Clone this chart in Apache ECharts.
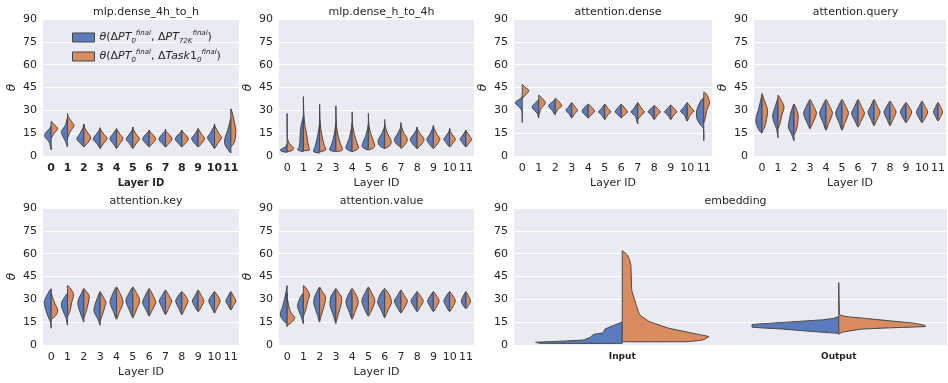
<!DOCTYPE html>
<html>
<head>
<meta charset="utf-8">
<script src="https://cdn.jsdelivr.net/npm/echarts@6/dist/echarts.min.js"></script>
<style>
  html, body { margin: 0; padding: 0; background: #fff; }
  #chart { width: 948px; height: 383px; }
</style>
</head>
<body>
<div id="chart"></div>
<script>
/* ===== Data: split violins, each half = list of [theta, relative half-width] from bottom to top ===== */
const layers = ['0', '1', '2', '3', '4', '5', '6', '7', '8', '9', '10', '11']
const embedCats = ['Input', 'Output']
const yMax = 90
const yStep = 15

// mlp.dense_4h_to_h
const dense4hToH_pt = [
    [[4, 0], [9, 0.25], [13, 0.85], [15, 0.75], [18, 0.2], [20, 0]],
    [[6, 0], [10, 0.3], [14, 0.7], [16, 0.8], [20, 0.3], [25, 0]],
    [[6, 0], [8, 0.4], [11, 0.9], [14, 0.6], [18, 0.15], [21, 0]],
    [[5, 0], [8, 0.4], [11, 0.9], [14, 0.55], [17, 0.1], [18.5, 0]],
    [[5, 0], [8, 0.4], [11, 0.85], [14, 0.55], [17, 0.1], [18, 0]],
    [[5, 0], [8, 0.4], [11, 0.85], [14, 0.5], [17, 0.1], [19, 0]],
    [[6, 0], [8, 0.4], [11, 0.85], [14, 0.5], [16, 0.1], [17, 0]],
    [[6, 0], [8, 0.4], [11, 0.85], [14, 0.5], [16, 0.1], [17.5, 0]],
    [[6, 0], [8, 0.4], [11, 0.85], [14, 0.5], [16, 0.1], [17, 0]],
    [[6, 0], [8, 0.4], [11.5, 0.85], [14, 0.5], [17, 0.1], [18, 0]],
    [[5, 0], [8, 0.4], [12, 0.9], [15, 0.55], [19, 0.1], [21, 0]],
    [[2, 0], [4, 0.35], [8, 0.8], [12, 0.75], [17, 0.4], [22, 0.15], [25, 0]]
]
const dense4hToH_task = [
    [[12, 0], [15, 0.4], [18, 0.85], [20, 0.5], [22, 0.15], [23, 0]],
    [[12, 0], [16, 0.35], [20, 0.85], [23, 0.45], [26, 0.1], [28, 0]],
    [[6, 0], [8, 0.4], [12, 0.9], [15, 0.55], [18, 0.15], [21, 0]],
    [[5, 0], [8, 0.4], [11.5, 0.9], [14, 0.55], [17, 0.1], [18.5, 0]],
    [[5, 0], [8, 0.4], [11.5, 0.85], [14, 0.5], [17, 0.1], [18, 0]],
    [[5, 0], [8, 0.4], [11, 0.85], [14, 0.5], [17, 0.1], [19, 0]],
    [[6, 0], [8, 0.4], [11, 0.85], [14, 0.5], [16, 0.1], [17, 0]],
    [[6, 0], [8, 0.4], [11, 0.85], [14, 0.5], [16, 0.1], [17.5, 0]],
    [[6, 0], [8, 0.4], [11, 0.85], [14, 0.5], [16, 0.1], [17, 0]],
    [[6, 0], [8, 0.4], [11.5, 0.85], [14, 0.5], [17, 0.1], [18, 0]],
    [[5, 0], [8, 0.4], [12, 0.9], [15, 0.55], [19, 0.1], [21, 0]],
    [[6, 0], [9, 0.45], [13, 0.6], [17, 0.65], [21, 0.5], [25, 0.35], [29, 0.15], [31, 0]]
]

// mlp.dense_h_to_4h
const denseHTo4h_pt = [
    [[2.5, 0], [3, 0.7], [4, 0.9], [5, 0.6], [6, 0.2], [8, 0]],
    [[3, 0], [4, 0.75], [6, 0.55], [10, 0.45], [16, 0.4], [20, 0.3], [24, 0.1], [26, 0]],
    [[2, 0], [3, 0.8], [6, 0.6], [10, 0.4], [15, 0.2], [20, 0.05], [22, 0]],
    [[3, 0], [4, 0.8], [7, 0.6], [11, 0.35], [16, 0.15], [22, 0]],
    [[3, 0], [5, 0.8], [8, 0.65], [12, 0.35], [18, 0.1], [22, 0]],
    [[4, 0], [6, 0.8], [9, 0.7], [13, 0.35], [18, 0.1], [21, 0]],
    [[5, 0], [7, 0.7], [10, 0.85], [14, 0.45], [18, 0.1], [20, 0]],
    [[6, 0], [8, 0.6], [11, 0.85], [14, 0.5], [18, 0.1], [20, 0]],
    [[5, 0], [8, 0.6], [11, 0.9], [14, 0.5], [17, 0.1], [19, 0]],
    [[5, 0], [8, 0.55], [11, 0.85], [14, 0.5], [18, 0.1], [20, 0]],
    [[6, 0], [9, 0.5], [11, 0.75], [13, 0.5], [16, 0.1], [18, 0]],
    [[6, 0], [9, 0.5], [11, 0.75], [13, 0.5], [16, 0.1], [17, 0]]
]
const denseHTo4h_task = [
    [[3, 0], [3.5, 0.6], [5, 0.85], [7, 0.5], [9, 0.2], [12, 0.04], [28, 0]],
    [[3.5, 0], [4, 0.8], [6, 0.7], [10, 0.55], [15, 0.4], [20, 0.2], [28, 0.06], [39, 0]],
    [[3, 0], [4, 0.8], [7, 0.6], [12, 0.35], [18, 0.15], [25, 0.04], [34, 0]],
    [[3, 0], [4, 0.85], [8, 0.6], [13, 0.3], [20, 0.08], [33, 0]],
    [[3, 0], [5, 0.8], [9, 0.6], [14, 0.3], [20, 0.08], [29, 0]],
    [[4, 0], [6, 0.8], [10, 0.65], [14, 0.35], [20, 0.08], [28, 0]],
    [[5, 0], [7, 0.7], [10, 0.85], [14, 0.45], [19, 0.1], [24, 0]],
    [[5, 0], [8, 0.6], [11, 0.85], [15, 0.4], [19, 0.1], [22, 0]],
    [[5, 0], [8, 0.6], [11, 0.9], [14, 0.5], [17, 0.1], [19, 0]],
    [[5, 0], [8, 0.55], [11, 0.85], [14, 0.5], [18, 0.1], [20, 0]],
    [[6, 0], [9, 0.5], [11, 0.75], [13, 0.5], [16, 0.1], [18, 0]],
    [[6, 0], [9, 0.5], [11, 0.75], [13, 0.5], [16, 0.1], [17, 0]]
]

// attention.dense
const attnDense_pt = [
    [[22, 0], [29, 0.03], [31.5, 0.25], [35, 0.9], [37.5, 0.3], [39, 0]],
    [[25, 0], [28, 0.2], [32, 0.85], [35, 0.4], [37, 0]],
    [[27, 0], [30, 0.4], [33, 0.85], [35, 0.5], [37, 0]],
    [[25, 0], [28, 0.4], [30, 0.75], [32, 0.45], [35, 0]],
    [[25, 0], [27, 0.4], [29.5, 0.8], [32, 0.45], [34, 0]],
    [[24, 0], [27, 0.4], [29, 0.8], [31, 0.45], [34, 0]],
    [[25, 0], [27, 0.4], [29, 0.8], [31.5, 0.45], [34, 0]],
    [[21, 0], [26, 0.3], [29, 0.85], [31.5, 0.45], [35, 0]],
    [[24, 0], [27, 0.4], [29, 0.8], [31, 0.45], [33, 0]],
    [[24, 0], [27, 0.4], [29, 0.8], [31, 0.45], [33.5, 0]],
    [[23, 0], [27, 0.4], [29.5, 0.85], [32, 0.45], [35, 0]],
    [[10, 0], [18, 0.05], [21, 0.5], [25, 0.9], [30, 0.9], [34, 0.6], [37, 0.3], [38, 0]]
]
const attnDense_task = [
    [[38, 0], [40, 0.4], [43, 0.85], [45, 0.4], [47, 0]],
    [[27, 0], [31, 0.3], [35, 0.85], [38, 0.4], [40, 0]],
    [[28, 0], [31, 0.4], [33, 0.85], [35.5, 0.5], [38, 0]],
    [[25, 0], [28, 0.4], [30, 0.75], [32, 0.45], [35, 0]],
    [[25, 0], [27, 0.4], [29.5, 0.8], [32, 0.45], [34, 0]],
    [[24, 0], [27, 0.4], [29, 0.8], [31, 0.45], [34, 0]],
    [[25, 0], [27, 0.4], [29, 0.8], [31.5, 0.45], [34, 0]],
    [[24, 0], [26, 0.3], [29, 0.85], [31.5, 0.45], [35, 0]],
    [[24, 0], [27, 0.4], [29, 0.8], [31, 0.45], [33, 0]],
    [[24, 0], [27, 0.4], [29, 0.8], [31, 0.45], [33.5, 0]],
    [[23, 0], [27, 0.4], [29.5, 0.85], [32, 0.45], [35, 0]],
    [[22, 0], [25, 0.2], [30, 0.4], [35, 0.75], [38, 0.6], [41, 0.3], [42, 0]]
]

// attention.query
const attnQuery_pt = [
    [[15, 0], [17, 0.4], [22, 0.8], [26, 0.75], [30, 0.5], [35, 0.25], [40, 0]],
    [[12, 0], [18, 0.2], [23, 0.6], [27, 0.7], [32, 0.4], [36, 0.15], [38, 0]],
    [[10, 0], [14, 0.3], [19, 0.75], [24, 0.6], [29, 0.4], [34, 0]],
    [[18, 0], [22, 0.4], [28, 0.85], [32, 0.55], [37, 0]],
    [[17, 0], [22, 0.4], [28, 0.85], [32, 0.55], [37, 0]],
    [[17, 0], [22, 0.4], [28, 0.85], [32, 0.55], [37, 0]],
    [[19, 0], [23, 0.4], [28, 0.85], [32, 0.5], [37, 0]],
    [[20, 0], [24, 0.4], [29, 0.8], [32, 0.5], [37, 0]],
    [[20, 0], [24, 0.4], [29, 0.8], [32, 0.5], [36, 0]],
    [[22, 0], [25, 0.4], [29, 0.75], [32, 0.45], [35, 0]],
    [[22, 0], [25, 0.4], [29, 0.75], [32, 0.45], [36, 0]],
    [[23, 0], [26, 0.35], [29, 0.6], [32, 0.35], [35, 0]]
]
const attnQuery_task = [
    [[16, 0], [19, 0.35], [24, 0.6], [30, 0.75], [34, 0.5], [38, 0.2], [41, 0]],
    [[18, 0], [22, 0.3], [27, 0.5], [32, 0.8], [36, 0.5], [40, 0]],
    [[14, 0], [17, 0.3], [22, 0.5], [27, 0.55], [31, 0.3], [34, 0]],
    [[18, 0], [22, 0.4], [28, 0.85], [32, 0.55], [37, 0]],
    [[17, 0], [22, 0.4], [28, 0.85], [32, 0.55], [37, 0]],
    [[17, 0], [22, 0.4], [28, 0.85], [32, 0.55], [37, 0]],
    [[19, 0], [23, 0.4], [28, 0.85], [32, 0.5], [37, 0]],
    [[20, 0], [24, 0.4], [29, 0.8], [32, 0.5], [37, 0]],
    [[20, 0], [24, 0.4], [29, 0.8], [32, 0.5], [36, 0]],
    [[22, 0], [25, 0.4], [29, 0.75], [32, 0.45], [35, 0]],
    [[22, 0], [25, 0.4], [29, 0.75], [32, 0.45], [36, 0]],
    [[23, 0], [26, 0.35], [29, 0.6], [32, 0.35], [35, 0]]
]

// attention.key
const attnKey_pt = [
    [[11, 0], [15, 0.1], [20, 0.5], [28, 0.9], [33, 0.5], [37, 0]],
    [[13, 0], [18, 0.2], [24, 0.7], [28, 0.75], [32, 0.3], [34, 0]],
    [[15, 0], [19, 0.3], [25, 0.7], [29, 0.75], [34, 0.3], [37, 0]],
    [[13, 0], [17, 0.3], [22, 0.8], [26, 0.7], [31, 0.35], [35, 0]],
    [[17, 0], [22, 0.4], [28, 0.85], [33, 0.55], [38, 0]],
    [[18, 0], [23, 0.45], [29, 0.9], [33, 0.6], [38, 0]],
    [[19, 0], [23, 0.4], [28, 0.85], [32, 0.55], [37, 0]],
    [[20, 0], [24, 0.4], [29, 0.8], [32, 0.5], [36, 0]],
    [[20, 0], [24, 0.4], [29, 0.8], [32, 0.5], [35, 0]],
    [[22, 0], [25, 0.4], [29, 0.75], [32, 0.45], [36, 0]],
    [[21, 0], [25, 0.4], [29, 0.75], [32, 0.45], [35, 0]],
    [[23, 0], [26, 0.35], [29, 0.65], [32, 0.35], [35, 0]]
]
const attnKey_task = [
    [[17, 0], [20, 0.7], [23, 0.85], [27, 0.5], [31, 0.2], [34, 0]],
    [[19, 0], [22, 0.3], [28, 0.55], [33, 0.8], [37, 0.4], [39, 0]],
    [[18, 0], [22, 0.3], [27, 0.55], [32, 0.7], [35, 0.35], [37, 0]],
    [[16, 0], [20, 0.3], [25, 0.6], [28, 0.75], [32, 0.35], [35, 0]],
    [[17, 0], [22, 0.4], [28, 0.85], [33, 0.55], [38, 0]],
    [[18, 0], [23, 0.45], [29, 0.9], [33, 0.6], [38, 0]],
    [[19, 0], [23, 0.4], [28, 0.85], [32, 0.55], [37, 0]],
    [[20, 0], [24, 0.4], [29, 0.8], [32, 0.5], [36, 0]],
    [[20, 0], [24, 0.4], [29, 0.8], [32, 0.5], [35, 0]],
    [[22, 0], [25, 0.4], [29, 0.75], [32, 0.45], [36, 0]],
    [[21, 0], [25, 0.4], [29, 0.75], [32, 0.45], [35, 0]],
    [[23, 0], [26, 0.35], [29, 0.65], [32, 0.35], [35, 0]]
]

// attention.value
const attnValue_pt = [
    [[12, 0], [14, 0.05], [16, 0.5], [20, 0.9], [25, 0.6], [31, 0.3], [36, 0.1], [39, 0]],
    [[14, 0], [19, 0.3], [25, 0.75], [29, 0.6], [33, 0.2], [34, 0]],
    [[15, 0], [20, 0.3], [27, 0.75], [31, 0.7], [35, 0.35], [38, 0]],
    [[14, 0], [19, 0.3], [26, 0.75], [31, 0.7], [35, 0.3], [37, 0]],
    [[17, 0], [22, 0.4], [28, 0.8], [32, 0.6], [37, 0]],
    [[19, 0], [23, 0.45], [29, 0.85], [33, 0.55], [38, 0]],
    [[18, 0], [23, 0.45], [28, 0.9], [33, 0.6], [37, 0]],
    [[21, 0], [24, 0.4], [29, 0.85], [32, 0.5], [36, 0]],
    [[22, 0], [25, 0.4], [29, 0.8], [32, 0.45], [35, 0]],
    [[22, 0], [25, 0.4], [29, 0.75], [32, 0.45], [35, 0]],
    [[22, 0], [25, 0.4], [29, 0.75], [32, 0.45], [35, 0]],
    [[24, 0], [26, 0.35], [29, 0.6], [32, 0.35], [35, 0]]
]
const attnValue_task = [
    [[13, 0], [15, 0.6], [18, 1.0], [21, 0.5], [26, 0.2], [30, 0.05], [34, 0]],
    [[19, 0], [23, 0.3], [29, 0.6], [33, 0.8], [37, 0.4], [39, 0]],
    [[16, 0], [21, 0.3], [28, 0.7], [32, 0.75], [35, 0.35], [38, 0]],
    [[15, 0], [20, 0.3], [27, 0.7], [31, 0.75], [35, 0.3], [37, 0]],
    [[17, 0], [22, 0.4], [28, 0.8], [32, 0.6], [37, 0]],
    [[19, 0], [23, 0.45], [29, 0.85], [33, 0.55], [38, 0]],
    [[18, 0], [23, 0.45], [28, 0.9], [33, 0.6], [37, 0]],
    [[21, 0], [24, 0.4], [29, 0.85], [32, 0.5], [36, 0]],
    [[22, 0], [25, 0.4], [29, 0.8], [32, 0.45], [35, 0]],
    [[22, 0], [25, 0.4], [29, 0.75], [32, 0.45], [35, 0]],
    [[22, 0], [25, 0.4], [29, 0.75], [32, 0.45], [35, 0]],
    [[24, 0], [26, 0.35], [29, 0.6], [32, 0.35], [35, 0]]
]

// embedding
const embed_pt = [
    [[1.1, 0.95], [1.8, 1.0], [2.5, 0.7], [3.3, 0.45], [5, 0.37], [7, 0.33], [8, 0.22], [10.4, 0.2], [12.6, 0.11], [14, 0.05], [15, 0]],
    [[7.7, 0], [9, 0.33], [10.5, 0.66], [11.7, 1.0], [13.4, 1.0], [15, 0.6], [16.5, 0.2], [17.5, 0.06], [18.8, 0]]
]
const embed_task = [
    [[2.2, 0.75], [3.3, 0.93], [5.5, 1.0], [7.3, 0.85], [11, 0.54], [15.5, 0.31], [20, 0.2], [26.5, 0.16], [36, 0.11], [52, 0.1], [56, 0.085], [59, 0.06], [62, 0]],
    [[7, 0], [8.4, 0.04], [10.4, 0.26], [11.3, 0.6], [12.1, 1.0], [12.8, 1.0], [14.3, 0.87], [16, 0.57], [17.5, 0.3], [18.8, 0.07], [20, 0.01], [41, 0]]
]

/* ===== Styling ===== */
const BLUE = '#5A7BBE'
const ORANGE = '#DA8B5F'
const EDGE = '#444444'
const TEXT = '#262626'
const BG = '#EAEAF2'
const FONT = "'DejaVu Sans', 'Noto Sans', sans-serif"

const panels = [
    { title: 'mlp.dense_4h_to_h', cats: layers, pt: dense4hToH_pt, task: dense4hToH_task, box: [43, 19, 196, 137], yName: true, xName: 'Layer ID', bold: true },
    { title: 'mlp.dense_h_to_4h', cats: layers, pt: denseHTo4h_pt, task: denseHTo4h_task, box: [279, 19, 195, 137], yName: true, xName: 'Layer ID' },
    { title: 'attention.dense', cats: layers, pt: attnDense_pt, task: attnDense_task, box: [514, 19, 198, 137], yName: true, xName: 'Layer ID' },
    { title: 'attention.query', cats: layers, pt: attnQuery_pt, task: attnQuery_task, box: [754, 19, 193, 137], yName: true, xName: 'Layer ID' },
    { title: 'attention.key', cats: layers, pt: attnKey_pt, task: attnKey_task, box: [43, 208, 196, 137], yName: true, xName: 'Layer ID' },
    { title: 'attention.value', cats: layers, pt: attnValue_pt, task: attnValue_task, box: [279, 208, 195, 137], yName: true, xName: 'Layer ID' },
    { title: 'embedding', cats: embedCats, pt: embed_pt, task: embed_task, box: [514, 208, 433, 137], yName: false, xName: '', embed: true }
]

// one half of a split violin, drawn from the profile through the axes
const halfRenderer = (profiles, side, fill, smooth, spread) => (params, api) => {
    const i = api.value(0)
    const prof = profiles[i]
    if (!prof || !prof.length) return
    const half = api.size([1, 0])[0] * spread
    const cx = api.coord([i, 0])[0]
    const outer = prof.map(([v, w]) => [cx + side * w * half, api.coord([i, v])[1]])
    const inner = []
    for (let k = prof.length - 1; k >= 0; k--) {
        if ((k === 0 || k === prof.length - 1) && prof[k][1] === 0) continue
        inner.push([cx, api.coord([i, prof[k][0]])[1]])
    }
    return {
        type: 'polygon',
        shape: { points: outer.concat(inner), smooth },
        style: { fill, stroke: EDGE, lineWidth: 1 }
    }
}

const grid = [], xAxis = [], yAxis = [], series = [], title = []
panels.forEach((p, k) => {
    const [left, top, width, height] = p.box
    grid.push({ left, top, width, height, show: true, backgroundColor: BG, borderWidth: 0 })
    title.push({
        text: p.title, left: left + width / 2, top: top - 17, textAlign: 'center',
        textStyle: { fontFamily: FONT, fontSize: 11, fontWeight: 'normal', color: TEXT }
    })
    xAxis.push({
        gridIndex: k, type: 'category', data: p.cats,
        axisLine: { show: false }, axisTick: { show: false }, splitLine: { show: false },
        axisLabel: {
            interval: 0, margin: 7, color: TEXT, fontFamily: FONT,
            fontSize: p.embed ? 9 : 11, fontWeight: (p.bold || p.embed) ? 'bold' : 'normal'
        },
        name: p.xName, nameLocation: 'middle', nameGap: 22,
        nameTextStyle: { fontFamily: FONT, fontSize: p.bold ? 10 : 11, fontWeight: p.bold ? 'bold' : 'normal', color: TEXT }
    })
    yAxis.push({
        gridIndex: k, type: 'value', min: 0, max: yMax, interval: yStep,
        axisLine: { show: false }, axisTick: { show: false },
        splitLine: { lineStyle: { color: '#ffffff', width: 1 } },
        axisLabel: { color: TEXT, fontFamily: FONT, fontSize: 11, margin: 6 },
        name: p.yName ? 'θ' : '', nameLocation: 'middle', nameGap: 25,
        nameTextStyle: { fontFamily: FONT, fontSize: 12, fontStyle: 'italic', color: TEXT }
    })
    const items = p.cats.map((_, i) => [i])
    const smooth = p.embed ? 0.1 : 0.3
    const spread = p.embed ? 0.4 : 0.47
    series.push({
        name: 'pt', type: 'custom', xAxisIndex: k, yAxisIndex: k, data: items,
        itemStyle: { color: BLUE }, renderItem: halfRenderer(p.pt, -1, BLUE, smooth, spread)
    })
    series.push({
        name: 'task', type: 'custom', xAxisIndex: k, yAxisIndex: k, data: items,
        itemStyle: { color: ORANGE }, renderItem: halfRenderer(p.task, 1, ORANGE, smooth, spread)
    })
})

const chart = echarts.init(document.getElementById('chart'))
chart.setOption({
    animation: false,
    textStyle: { fontFamily: FONT },
    title,
    grid,
    xAxis,
    yAxis,
    legend: {
        orient: 'vertical', left: 67, top: 25, icon: 'rect',
        itemWidth: 22, itemHeight: 9, itemGap: 4,
        data: [
            { name: 'pt', itemStyle: { color: BLUE, borderColor: EDGE, borderWidth: 1 } },
            { name: 'task', itemStyle: { color: ORANGE, borderColor: EDGE, borderWidth: 1 } }
        ],
        formatter: n => n === 'pt'
            ? '{it|θ}(Δ{it|PT}{sub|0}{sup|final}, Δ{it|PT}{sub|72K}{sup|final})'
            : '{it|θ}(Δ{it|PT}{sub|0}{sup|final}, Δ{it|Task}1{sub|0}{sup|final})',
        textStyle: {
            color: TEXT, fontFamily: FONT, fontSize: 11, lineHeight: 15,
            rich: {
                it: { fontStyle: 'italic', fontSize: 11, lineHeight: 15 },
                sub: { fontStyle: 'italic', fontSize: 7, verticalAlign: 'bottom', lineHeight: 15 },
                sup: { fontStyle: 'italic', fontSize: 7, verticalAlign: 'top', lineHeight: 15 }
            }
        }
    },
    series
})
window.addEventListener('resize', () => chart.resize())
</script>
</body>
</html>
